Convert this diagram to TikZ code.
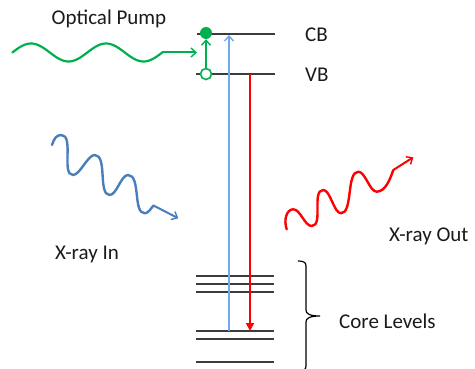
\documentclass[tikz,border=0pt]{standalone}
\usepackage{fontspec}
\setmainfont{Carlito}
\usetikzlibrary{arrows.meta}
\definecolor{lvl}{HTML}{3C3C3C}
\definecolor{pgreen}{HTML}{00B050}
\definecolor{xblue}{HTML}{6FA8EC}
\definecolor{wblue}{HTML}{4A7EBB}
\definecolor{xred}{HTML}{FF0000}
\definecolor{txt}{HTML}{1A1A1A}
\begin{document}
\begin{tikzpicture}[x=1pt,y=-1pt,
  level/.style={draw=lvl, line width=1.6pt},
  lbl/.style={font=\fontsize{21}{25}\selectfont, text=txt, inner sep=0pt},
  openhead/.style={-{Straight Barb[length=5pt,width=9pt,line width=1.4pt]}},
  wave/.style={line width=2.4pt, line cap=round, line join=round}]
\useasboundingbox (0,0) rectangle (475,369);

% energy levels
\coordinate (cbL) at (197,34);  \coordinate (cbR) at (275,34);
\coordinate (vbL) at (196,74);  \coordinate (vbR) at (275,74);
\draw[level] (cbL) -- (cbR);
\draw[level] (vbL) -- (vbR);
\foreach \y/\n in {276/a,284/b,292/c,331/d,339/e,362/f}{
  \coordinate (cl\n L) at (196,\y);
  \coordinate (cl\n R) at (274,\y);
  \draw[level] (cl\n L) -- (cl\n R);
}

% labels
\node[lbl, anchor=base west] (cb) at (305,42) {CB};
\node[lbl, anchor=base west] (vb) at (305,82) {VB};
\node[lbl, anchor=base] (pump) at (109,25) {Optical Pump};
\node[lbl, anchor=base west] (xin) at (55,260) {X-ray In};
\node[lbl, anchor=base west] (xout) at (389,241) {X-ray Out};
\node[lbl, anchor=base west] (core) at (339,328) {Core Levels};

% x-ray absorption (blue) and emission (red)
\coordinate (bBot) at (229,331);
\coordinate (bTop) at (229,35);
\draw[xblue, line width=1.8pt, openhead] (bBot) -- (bTop);
\coordinate (rTop) at (250,74);
\coordinate (rBot) at (250,331);
\draw[xred, line width=1.8pt, -{Triangle[length=8pt,width=8pt]}] (rTop) -- (rBot);

% electron / hole
\node[circle, fill=pgreen, minimum size=12pt, inner sep=0pt] (el) at (206,33) {};
\node[circle, draw=pgreen, fill=white, line width=1.6pt, minimum size=11pt, inner sep=0pt] (ho) at (206,74) {};
\draw[pgreen, line width=1.8pt, openhead] (ho) -- (el);

% optical pump wave
\coordinate (pEnd) at (162.3,52.5);
\coordinate (pTip) at (197,52.5);
\draw[pgreen, line width=2.2pt, line cap=round] plot[domain=0:2, samples=90, smooth] ({12.3+75*\x}, {52.5-9*sin(360*\x)});
\draw[pgreen, line width=2pt, openhead] (pEnd) -- (pTip);

% x-ray in wave
\coordinate (bwEnd) at (153.5,205.5);
\coordinate (bwTip) at (178.3,218.3);
\draw[wblue, wave] (52,145) .. controls (54,139) and (56,135) .. (61.3,135)
  .. controls (74.3,135) and (61,175) .. (73,175)
  .. controls (80,175) and (87.7,155) .. (94.7,155)
  .. controls (107.7,155) and (97.7,195) .. (109.7,195)
  .. controls (116.7,195) and (121,175) .. (128,175)
  .. controls (141,175) and (132.7,213.3) .. (144.7,213.3)
  .. controls (148.7,213.3) and (151.5,207.5) .. (bwEnd);
\draw[wblue, line width=2pt, openhead] (bwEnd) -- (bwTip);

% x-ray out wave
\coordinate (rwEnd) at (393.3,170);
\coordinate (rwTip) at (413.3,157.3);
\draw[xred, wave] (286.7,229.3) .. controls (283.5,220) and (286.5,209.3) .. (293.3,209.3)
  .. controls (300.3,209.3) and (304.7,226) .. (311.7,226)
  .. controls (323.7,226) and (311.3,190) .. (323.3,190)
  .. controls (330.3,190) and (334,213.3) .. (341,213.3)
  .. controls (353,213.3) and (346.3,171.7) .. (358.3,171.7)
  .. controls (365.3,171.7) and (369.7,191.7) .. (376.7,191.7)
  .. controls (385.7,191.7) and (390.5,178) .. (rwEnd);
\draw[xred, line width=2pt, openhead] (rwEnd) -- (rwTip);

% brace
\draw[black, line width=1.2pt] (298,261) .. controls (303,261) and (306,262) .. (306,266) -- (306,310) .. controls (306,314) and (310,316) .. (320,316) .. controls (310,316) and (306,318) .. (306,322) -- (306,366) .. controls (306,370) and (303,371) .. (298,371);
\end{tikzpicture}
\end{document}
